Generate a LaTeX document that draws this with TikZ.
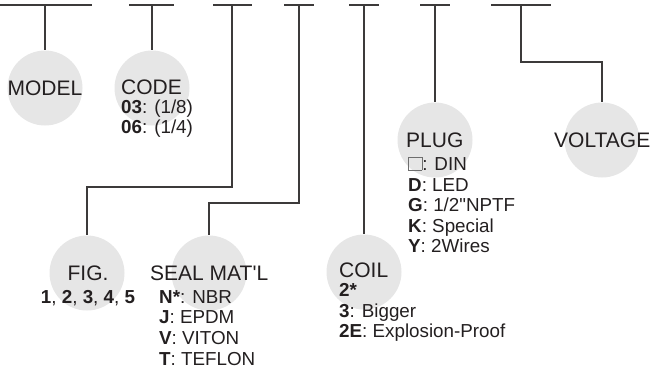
\documentclass[tikz,border=0pt]{standalone}
\usepackage{fontspec}
\setmainfont{Liberation Sans}
\newfontfamily\plainsans{Liberation Sans}
\usetikzlibrary{calc}
\definecolor{ln}{HTML}{3C3A3A}
\definecolor{circ}{HTML}{E6E6E6}
\definecolor{tx}{HTML}{231F20}
\definecolor{sq}{HTML}{6E6E6E}
\newcommand{\emptysq}{{\color{sq}\setlength{\fboxsep}{0pt}\setlength{\fboxrule}{0.8bp}\fbox{\rule{0pt}{12.5bp}\rule{12.5bp}{0pt}}}}
\tikzset{
  bar/.style={draw=ln, line width=1.3bp},
  conn/.style={draw=ln, line width=1.3bp},
  bubble/.style={circle, fill=circ, minimum size=75bp, inner sep=0pt},
  ttl/.style={inner sep=0pt, text=tx, font=\plainsans\fontsize{21bp}{24bp}\selectfont},
  sub/.style={inner sep=0pt, text=tx, font=\plainsans\fontsize{18.8bp}{21bp}\selectfont},
}
\begin{document}
\begin{tikzpicture}[x=1bp,y=-1bp]
\useasboundingbox (0,0) rectangle (650,368);
% bubbles
\node[bubble] (model) at (45,88) {};
\node[bubble] (code) at (152,88) {};
\node[bubble] (fig) at (87,273) {};
\node[bubble] (seal) at (209,273) {};
\node[bubble] (coil) at (364,272) {};
\node[bubble] (plug) at (435,140) {};
\node[bubble] (volt) at (602,140) {};
% top bars
\coordinate (a1) at (0,5);   \coordinate (c1) at (92,5);  \coordinate (b1) at (45,5);
\coordinate (a2) at (129,5); \coordinate (c2) at (174,5); \coordinate (b2) at (152,5);
\coordinate (a3) at (213,5); \coordinate (c3) at (252,5); \coordinate (b3) at (232,5);
\coordinate (a4) at (284,5); \coordinate (c4) at (314,5); \coordinate (b4) at (299,5);
\coordinate (a5) at (349,5); \coordinate (c5) at (379,5); \coordinate (b5) at (364,5);
\coordinate (a6) at (420,5); \coordinate (c6) at (450,5); \coordinate (b6) at (435,5);
\coordinate (a7) at (491,5); \coordinate (c7) at (551,5); \coordinate (b7) at (521,5);
\foreach \i in {1,...,7} {\draw[bar] (a\i) -- (c\i);}
% bends
\coordinate (k3) at (232,187);
\coordinate (k4) at (299,203);
\coordinate (k7) at (521,62);
% connectors
\draw[conn] (b1) -- (model.north);
\draw[conn] (b2) -- (code.north);
\draw[conn] (b3) -- (k3) -| (fig.north);
\draw[conn] (b4) -- (k4) -| (seal.north);
\draw[conn] (b5) -- (coil.north);
\draw[conn] (b6) -- (plug.north);
\draw[conn] (b7) -- (k7) -| (volt.north);
% texts
\node[ttl, anchor=base] (modelt) at (45,95) {MODEL};
\node[ttl, anchor=base west] (codet) at (121,94) {CODE};
\node[sub, anchor=base west] (code1) at (121,113) {\textbf{03}: (1/8)};
\node[sub, anchor=base west] (code2) at (121,133) {\textbf{06}: (1/4)};
\node[ttl, anchor=base] (figt) at (88,280) {FIG.};
\node[sub, anchor=base] (fig1) at (88,303) {\textbf{1}, \textbf{2}, \textbf{3}, \textbf{4}, \textbf{5}};
\node[ttl, anchor=base west] (sealt) at (150,280) {SEAL MAT'L};
\node[sub, anchor=base west] (seal1) at (159,303) {\textbf{N*}: NBR};
\node[sub, anchor=base west] (seal2) at (159,323) {\textbf{J}: EPDM};
\node[sub, anchor=base west] (seal3) at (159,344) {\textbf{V}: VITON};
\node[sub, anchor=base west] (seal4) at (159,365) {\textbf{T}: TEFLON};
\node[ttl, anchor=base west] (coilt) at (339,277) {COIL};
\node[sub, anchor=base west] (coil1) at (339,296) {\textbf{2*}};
\node[sub, anchor=base west] (coil2) at (339,317) {\textbf{3}: Bigger};
\node[sub, anchor=base west] (coil3) at (339,337) {\textbf{2E}: Explosion-Proof};
\node[ttl, anchor=base west] (plugt) at (406,147) {PLUG};
\node[sub, anchor=base west] (plug1) at (408,170) {\emptysq: DIN};
\node[sub, anchor=base west] (plug2) at (408,191) {\textbf{D}: LED};
\node[sub, anchor=base west] (plug3) at (408,211) {\textbf{G}: 1/2"NPTF};
\node[sub, anchor=base west] (plug4) at (408,232) {\textbf{K}: Special};
\node[sub, anchor=base west] (plug5) at (408,252) {\textbf{Y}: 2Wires};
\node[ttl, anchor=base west] (voltt) at (554,147) {VOLTAGE};
\end{tikzpicture}
\end{document}
